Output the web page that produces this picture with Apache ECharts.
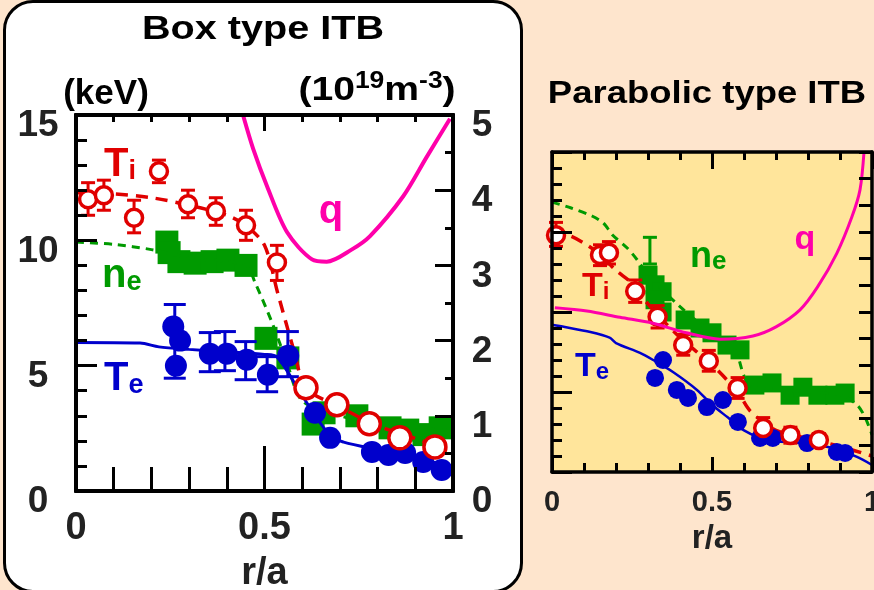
<!DOCTYPE html>
<html lang="en">
<head>
<meta charset="UTF-8">
<title>Box type ITB / Parabolic type ITB</title>
<script src="https://cdn.jsdelivr.net/npm/echarts@6/dist/echarts.min.js"></script>
<style>
    html, body {margin: 0; padding: 0; background: #fee5cd; overflow: hidden;}
    #wrap {position: relative; width: 874px; height: 590px;}
    /* rounded white frame behind the left panel */
    #box {position: absolute; left: 3px; top: 0px; width: 514px; height: 587px; background: #fff;
        border: 3.5px solid #000; border-radius: 30px;}
    #main {position: absolute; left: 0; top: 0; width: 874px; height: 590px;}
</style>
</head>
<body>
<div id="wrap">
    <div id="box"></div>
    <div id="main"></div>
</div>
<script>
// ---- Box type ITB (left panel): x = r/a, Ti/Te in keV (left axis), ne and q on right axis ----
var boxTi = [[0.032, 11.64], [0.074, 11.8], [0.154, 10.9], [0.22, 12.76], [0.297, 11.44], [0.371, 11.16],
    [0.451, 10.6], [0.533, 9.12], [0.61, 4.12], [0.692, 3.44], [0.778, 2.68], [0.859, 2.12], [0.952, 1.76]];
var boxTiErr = [[0.032, 11.0, 12.3], [0.074, 11.2, 12.4], [0.154, 10.3, 11.6], [0.22, 12.3, 13.2],
    [0.297, 10.9, 12.0], [0.371, 10.6, 11.7], [0.451, 10.0, 11.2], [0.533, 8.4, 9.8]];
var boxTiFit = [[0, 11.9], [0.1, 11.85], [0.2, 11.7], [0.3, 11.4], [0.4, 11.0], [0.45, 10.6], [0.5, 9.8],
    [0.535, 7.9], [0.58, 5.5], [0.61, 4.1], [0.7, 3.35], [0.8, 2.6], [0.9, 2.1], [0.98, 1.65]];
var boxTe = [[0.258, 6.56], [0.276, 6.0], [0.265, 5.0], [0.355, 5.48], [0.4, 5.48], [0.453, 5.24], [0.509, 4.64],
    [0.563, 5.4], [0.634, 3.12], [0.674, 2.12], [0.785, 1.56], [0.829, 1.44], [0.873, 1.52], [0.921, 1.16], [0.97, 0.84]];
var boxTeErr = [[0.262, 4.5, 7.44], [0.355, 4.76, 6.32], [0.395, 4.8, 6.36], [0.45, 4.44, 5.96],
    [0.507, 3.96, 5.36], [0.562, 4.56, 6.36]];
var boxTeFit = [[0, 5.92], [0.17, 5.9], [0.22, 5.75], [0.3, 5.65], [0.4, 5.55], [0.5, 5.45], [0.533, 5.35],
    [0.6, 3.8], [0.674, 2.2], [0.71, 1.95], [0.8, 1.65], [0.9, 1.35], [0.992, 0.96]];
var boxNe = [[0.241, 3.31], [0.247, 3.17], [0.273, 3.05], [0.316, 3.03], [0.361, 3.05], [0.403, 3.07], [0.451, 3.0],
    [0.504, 2.03], [0.562, 1.77], [0.629, 0.89], [0.658, 1.04], [0.745, 1.0], [0.833, 0.84], [0.88, 0.81],
    [0.923, 0.75], [0.966, 0.84]];
var boxNeFit = [[0, 3.31], [0.1, 3.28], [0.2, 3.21], [0.3, 3.1], [0.45, 3.0], [0.475, 2.77], [0.52, 2.24],
    [0.56, 1.7], [0.6, 1.2], [0.7, 1.0], [0.8, 0.9], [0.9, 0.85], [1.0, 0.8]];
var boxQ = [[0.443, 5.0], [0.47, 4.55], [0.507, 4.05], [0.56, 3.44], [0.626, 3.08], [0.665, 3.05], [0.731, 3.21],
    [0.78, 3.39], [0.868, 3.92], [0.93, 4.44], [0.992, 4.95]];

// ---- Parabolic type ITB (right panel) ----
var parTi = [[0.0125, 14.8], [0.15, 13.56], [0.178, 13.7], [0.26, 11.3], [0.33, 9.7], [0.41, 7.94], [0.49, 6.94],
    [0.58, 5.25], [0.66, 2.75], [0.745, 2.31], [0.834, 2.0]];
var parTiErr = [[0.0125, 14.1, 15.6], [0.15, 12.9, 14.2], [0.178, 13.0, 14.4], [0.26, 10.6, 12.0], [0.33, 9.0, 10.4],
    [0.41, 7.3, 8.6], [0.49, 6.3, 7.6], [0.58, 4.6, 5.9], [0.66, 2.1, 3.4], [0.745, 1.8, 2.8], [0.834, 1.6, 2.4]];
var parTiFit = [[0, 14.9], [0.05, 14.8], [0.1, 14.3], [0.15, 13.6], [0.2, 12.6], [0.25, 11.8], [0.3, 10.5],
    [0.4, 8.4], [0.5, 6.7], [0.58, 5.0], [0.62, 3.8], [0.7, 2.6], [0.8, 2.1], [0.9, 1.6], [1.0, 1.0]];
var parTe = [[0.347, 7.0], [0.322, 5.88], [0.39, 5.13], [0.425, 4.63], [0.484, 4.06], [0.534, 4.5], [0.581, 3.13],
    [0.65, 2.13], [0.69, 2.13], [0.797, 1.81], [0.89, 1.25], [0.916, 1.19]];
var parTeFit = [[0, 9.2], [0.04, 9.06], [0.12, 8.75], [0.18, 8.4], [0.2, 8.06], [0.275, 7.44], [0.316, 7.0],
    [0.378, 6.25], [0.453, 5.13], [0.5, 4.2], [0.55, 3.4], [0.6, 2.6], [0.672, 2.0], [0.775, 1.81], [0.878, 1.5],
    [0.953, 0.94], [1.0, 0.44]];
var parNe = [[0.3, 3.69], [0.322, 3.51], [0.344, 3.38], [0.322, 3.23], [0.344, 3.0], [0.416, 2.85], [0.4625, 2.7],
    [0.5, 2.61], [0.547, 2.38], [0.5875, 2.29], [0.634, 1.63], [0.6875, 1.67], [0.744, 1.44], [0.784, 1.59],
    [0.831, 1.44], [0.884, 1.44], [0.916, 1.48]];
var parNeErr = [[0.306, 3.9, 4.4]];
var parNeFit = [[0, 5.06], [0.06, 4.95], [0.125, 4.8], [0.16, 4.67], [0.19, 4.44], [0.235, 4.2], [0.266, 3.98],
    [0.3, 3.7], [0.4, 3.1], [0.5, 2.6], [0.57, 2.3], [0.6, 1.8], [0.62, 1.6], [0.7, 1.55], [0.8, 1.5], [0.9, 1.45],
    [0.953, 1.26], [0.978, 1.03], [1.0, 0.7]];
var parQ = [[0.009, 3.08], [0.109, 3.02], [0.2125, 2.9], [0.315, 2.79], [0.42, 2.61], [0.525, 2.49], [0.628, 2.55],
    [0.7, 2.72], [0.775, 3.04], [0.83, 3.47], [0.89, 4.1], [0.937, 4.78], [0.9625, 5.29], [0.975, 6.0]];

var FONT = '"Liberation Sans", Arial, sans-serif';
var RED = '#e00000', GREEN = '#009a00', BLUE = '#0000cc', MAGENTA = '#ff00aa', INK = '#222';

function xAx(grid, pos, tick, minor, width, label) {
    var ax = {
        gridIndex: grid, type: 'value', position: pos, min: 0, max: 1, interval: 0.5, z: 10,
        axisLine: {onZero: false, lineStyle: {color: '#000', width: width}},
        axisTick: {show: true, inside: true, length: tick, lineStyle: {color: '#000', width: 3}},
        minorTick: {show: true, splitNumber: 5, length: minor, lineStyle: {color: '#000', width: 3}},
        splitLine: {show: false}, minorSplitLine: {show: false},
        axisLabel: {show: false}
    };
    if (label) {
        ax.axisLabel = {show: true, fontSize: label.size, fontWeight: 'bold', fontFamily: FONT, color: INK, margin: label.margin};
        ax.name = 'r/a';
        ax.nameLocation = 'middle';
        ax.nameGap = label.gap;
        ax.nameTextStyle = {fontSize: label.nameSize, fontWeight: 'bold', fontFamily: FONT, color: INK};
    }
    return ax;
}

function yAx(grid, pos, max, interval, tick, minorSplit, minor, width, label) {
    var ax = {
        gridIndex: grid, type: 'value', position: pos, min: 0, max: max, interval: interval, z: 10,
        axisLine: {onZero: false, lineStyle: {color: '#000', width: width}},
        axisTick: {show: true, inside: true, length: tick, lineStyle: {color: '#000', width: 3}},
        minorTick: {show: minorSplit > 0, splitNumber: minorSplit || 1, length: minor, lineStyle: {color: '#000', width: 3}},
        splitLine: {show: false}, minorSplitLine: {show: false},
        axisLabel: {show: false}
    };
    if (label) {
        // labels sit a little below their ticks in the original
        ax.axisLabel = {show: true, fontSize: label.size, fontWeight: 'bold', fontFamily: FONT, color: INK,
            margin: label.margin, align: 'center', verticalAlign: 'top', lineHeight: 22};
    }
    return ax;
}

// tick-only copy of an axis, drawn on its own layer
function onTop(ax) {
    ax.zlevel = 1;
    ax.z = 50;
    return ax;
}

function errBars(data, xi, yi, color, cap, width) {
    return {
        type: 'custom', xAxisIndex: xi, yAxisIndex: yi, data: data, z: 4, silent: true,
        encode: {x: 0, y: [1, 2]},
        renderItem: function (params, api) {
            var lo = api.coord([api.value(0), api.value(1)]);
            var hi = api.coord([api.value(0), api.value(2)]);
            var st = {stroke: color, lineWidth: width};
            return {type: 'group', children: [
                {type: 'line', shape: {x1: lo[0], y1: lo[1], x2: hi[0], y2: hi[1]}, style: st},
                {type: 'line', shape: {x1: lo[0] - cap / 2, y1: lo[1], x2: lo[0] + cap / 2, y2: lo[1]}, style: st},
                {type: 'line', shape: {x1: hi[0] - cap / 2, y1: hi[1], x2: hi[0] + cap / 2, y2: hi[1]}, style: st}
            ]};
        }
    };
}

function fit(data, xi, yi, color, width, dash, z) {
    return {type: 'line', xAxisIndex: xi, yAxisIndex: yi, data: data, symbol: 'none', smooth: 0.3,
        lineStyle: {color: color, width: width, type: dash}, z: z || 3, silent: true};
}

function dots(data, xi, yi, symbol, size, fill, border, bw, z) {
    return {type: 'scatter', xAxisIndex: xi, yAxisIndex: yi, data: data, symbol: symbol, symbolSize: size,
        itemStyle: {color: fill, borderColor: border, borderWidth: bw, opacity: 1}, z: z || 5, silent: true};
}

// text with a subscript, e.g. T_i
function subLabel(x, y, main, sub, color, size, subSize, lh, subLh) {
    return {type: 'text', x: x, y: y, z: 100, style: {
        text: '{m|' + main + '}{s|' + sub + '}', fill: color, align: 'left', verticalAlign: 'middle',
        rich: {
            m: {fontSize: size, fontWeight: 'bold', fontFamily: FONT, lineHeight: lh, fill: color},
            s: {fontSize: subSize, fontWeight: 'bold', fontFamily: FONT, lineHeight: subLh, verticalAlign: 'bottom', fill: color}
        }
    }};
}

function plainText(x, y, text, color, size, sx) {
    return {type: 'text', x: x, y: y, scaleX: sx || 1, z: 100, style: {
        text: text, fill: color, align: 'center', verticalAlign: 'middle',
        font: 'bold ' + size + 'px ' + FONT
    }};
}

var boxRect = {left: 76, top: 115, width: 377, height: 376};

var chart = echarts.init(document.getElementById('main'));
chart.setOption({
    backgroundColor: 'transparent',
    animation: false,
    grid: [
        {left: boxRect.left, top: boxRect.top, width: boxRect.width, height: boxRect.height,
            outerBoundsMode: 'none', containLabel: false},
        {left: 552, top: 152, width: 320, height: 320, outerBoundsMode: 'none', containLabel: false,
            show: true, backgroundColor: '#ffe59b', borderWidth: 0},
        // same frame as the left panel, carries only its tick marks
        {left: boxRect.left, top: boxRect.top, width: boxRect.width, height: boxRect.height,
            outerBoundsMode: 'none', containLabel: false}
    ],
    xAxis: [
        xAx(0, 'bottom', 45, 24, 4, {size: 38, margin: 19, gap: 64, nameSize: 38}),
        xAx(0, 'top', 16, 7, 4),
        xAx(1, 'bottom', 15, 9, 3.5, {size: 29, margin: 16, gap: 50, nameSize: 33}),
        xAx(1, 'top', 17, 8, 3.5),
        onTop(xAx(2, 'bottom', 45, 24, 4)),
        onTop(xAx(2, 'top', 16, 7, 4))
    ],
    yAxis: [
        yAx(0, 'left', 15, 5, 21, 5, 11, 4, {size: 37, margin: 38}),
        yAx(0, 'right', 5, 1, 18, 2, 8, 4, {size: 37, margin: 29}),
        yAx(1, 'left', 20, 5, 20, 5, 10, 3.5),
        yAx(1, 'right', 6, 0.5, 13, 0, 0, 3.5),
        onTop(yAx(2, 'left', 15, 5, 21, 5, 11, 4)),
        onTop(yAx(2, 'right', 5, 1, 18, 2, 8, 4))
    ],
    graphic: [
        plainText(263, 30, 'Box type ITB', '#000', 33, 1.2),
        plainText(707, 94, 'Parabolic type ITB', '#000', 32, 1.14),
        plainText(106, 94, '(keV)', '#000', 35),
        {type: 'text', x: 377, y: 91, scaleX: 1.15, z: 100, style: {
            text: '{a|(10}{b|19}{a|m}{b|-3}{a|)}', fill: '#000', align: 'center', verticalAlign: 'middle',
            rich: {
                a: {fontSize: 34, fontWeight: 'bold', fontFamily: FONT, lineHeight: 42},
                b: {fontSize: 23, fontWeight: 'bold', fontFamily: FONT, lineHeight: 22, verticalAlign: 'top'}
            }
        }},
        subLabel(104, 165, 'T', 'i', RED, 40, 27, 40, 12),
        subLabel(102, 276, 'n', 'e', GREEN, 40, 27, 40, 11),
        subLabel(104, 379, 'T', 'e', BLUE, 40, 27, 40, 11),
        plainText(331, 212, 'q', MAGENTA, 40),
        subLabel(582, 287, 'T', 'i', RED, 34, 24, 34, 8),
        subLabel(690, 257, 'n', 'e', GREEN, 36, 26, 36, 8),
        subLabel(575, 367, 'T', 'e', BLUE, 34, 24, 34, 9),
        plainText(805, 240, 'q', MAGENTA, 34)
    ],
    series: [
        // left panel
        dots(boxNe, 0, 1, 'rect', 23, GREEN, GREEN, 0, 2),
        fit(boxNeFit, 0, 1, GREEN, 3, [8, 6], 3),
        fit(boxTeFit, 0, 0, BLUE, 3, 'solid', 3),
        fit(boxTiFit, 0, 0, RED, 3.5, [12, 8], 3),
        errBars(boxTeErr, 0, 0, BLUE, 22, 3),
        dots(boxTe, 0, 0, 'circle', 22, BLUE, BLUE, 0, 5),
        errBars(boxTiErr, 0, 0, RED, 14, 3),
        dots(boxTi, 0, 0, 'circle', function (v) { return v[0] < 0.55 ? 17 : 22; }, '#fff', RED, 3.5, 6),
        fit(boxQ, 0, 1, MAGENTA, 4, 'solid', 7),
        // right panel
        dots(parNe, 2, 3, 'rect', 19, GREEN, GREEN, 0, 2),
        errBars(parNeErr, 2, 3, GREEN, 14, 3),
        fit(parNeFit, 2, 3, GREEN, 3, [8, 6], 3),
        fit(parTeFit, 2, 2, BLUE, 2.5, 'solid', 3),
        fit(parTiFit, 2, 2, RED, 3.5, [12, 8], 3),
        dots(parTe, 2, 2, 'circle', 18, BLUE, BLUE, 0, 5),
        errBars(parTiErr, 2, 2, RED, 14, 3),
        dots(parTi, 2, 2, 'circle', 17, '#fff', RED, 3.5, 6),
        fit(parQ, 2, 3, MAGENTA, 3, 'solid', 7)
    ]
});
</script>
</body>
</html>
